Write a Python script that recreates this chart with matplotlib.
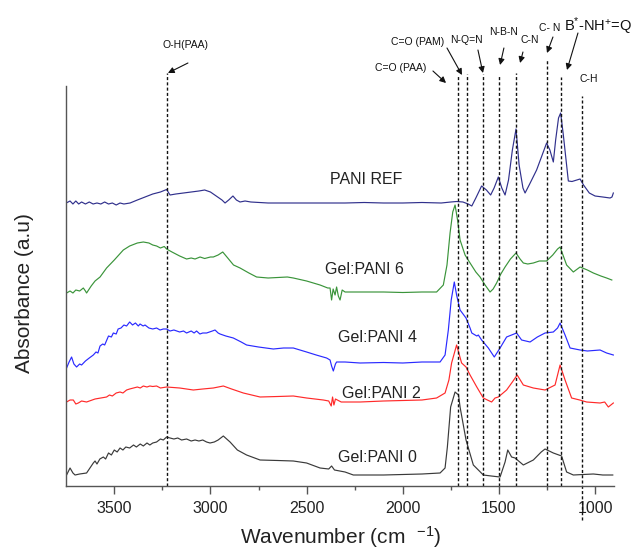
import matplotlib
matplotlib.use("Agg")
import matplotlib.pyplot as plt

plt.rcParams['font.family'] = ['Liberation Sans', 'DejaVu Sans']
plt.rcParams['mathtext.fontset'] = 'custom'
plt.rcParams['mathtext.rm'] = 'Liberation Sans'
plt.rcParams['mathtext.it'] = 'Liberation Sans'
plt.rcParams['mathtext.default'] = 'regular'

# ---------------- data (wavenumber cm-1, absorbance a.u., stacked offsets) -------------
ref_w = [3750, 3730, 3715, 3700, 3685, 3670, 3650, 3630, 3610, 3590, 3570, 3550, 3530, 3510,
         3490, 3470, 3450, 3418, 3380, 3340, 3300, 3260, 3228, 3210, 3180, 3140, 3100, 3060,
         3030, 3000, 2970, 2940, 2924, 2905, 2883, 2865, 2846, 2820, 2790, 2700, 2600, 2500,
         2400, 2300, 2200, 2100, 2000, 1900, 1800, 1750, 1720, 1687, 1660, 1641, 1620, 1590,
         1565, 1543, 1525, 1503, 1485, 1468, 1450, 1430, 1411, 1395, 1375, 1364, 1340, 1304,
         1275, 1252, 1235, 1217, 1205, 1190, 1179, 1165, 1139, 1120, 1078, 1060, 1030, 1000,
         960, 922, 912, 905]
ref_a = [2.83, 2.85, 2.82, 2.85, 2.82, 2.84, 2.82, 2.84, 2.82, 2.83, 2.82, 2.84, 2.82, 2.83,
         2.81, 2.83, 2.82, 2.83, 2.86, 2.89, 2.92, 2.94, 2.965, 2.91, 2.92, 2.93, 2.94, 2.95,
         2.96, 2.94, 2.90, 2.86, 2.83, 2.86, 2.90, 2.86, 2.84, 2.85, 2.84, 2.83, 2.83, 2.83,
         2.83, 2.83, 2.835, 2.83, 2.83, 2.835, 2.83, 2.84, 2.845, 2.84, 2.82, 2.80, 2.88, 3.00,
         2.96, 2.91, 2.98, 3.09, 2.98, 2.91, 3.06, 3.36, 3.57, 3.21, 2.98, 2.93, 3.02, 3.16,
         3.31, 3.43, 3.36, 3.24, 3.46, 3.68, 3.73, 3.51, 3.05, 3.045, 3.07, 3.01, 2.93, 2.90,
         2.89, 2.88, 2.89, 2.93]

p6_w = [3748, 3730, 3715, 3700, 3680, 3661, 3650, 3644, 3620, 3600, 3574, 3540, 3500, 3453,
        3420, 3380, 3349, 3320, 3300, 3280, 3260, 3240, 3228, 3200, 3160, 3124, 3100, 3080,
        3054, 3030, 3000, 2985, 2960, 2936, 2910, 2880, 2846, 2800, 2760, 2700, 2650, 2600,
        2569, 2500, 2430, 2390, 2378, 2370, 2362, 2352, 2344, 2335, 2326, 2315, 2300, 2257,
        2200, 2100, 2000, 1900, 1824, 1789, 1770, 1754, 1740, 1728, 1715, 1702, 1676, 1650,
        1620, 1598, 1572, 1546, 1530, 1512, 1490, 1468, 1440, 1411, 1390, 1373, 1350, 1321,
        1290, 1252, 1220, 1195, 1182, 1148, 1113, 1078, 1040, 1009, 970, 940, 913]
p6_a = [1.93, 1.95, 1.93, 1.96, 1.95, 1.98, 1.95, 1.93, 2.00, 2.05, 2.09, 2.18, 2.26, 2.36,
        2.40, 2.43, 2.44, 2.43, 2.41, 2.40, 2.38, 2.395, 2.37, 2.34, 2.30, 2.27, 2.28, 2.27,
        2.29, 2.275, 2.29, 2.29, 2.31, 2.34, 2.28, 2.21, 2.18, 2.13, 2.09, 2.08, 2.085, 2.09,
        2.08, 2.05, 2.01, 1.98, 1.98, 1.86, 1.97, 1.91, 1.99, 1.90, 1.86, 1.96, 1.94, 1.94,
        1.94, 1.94, 1.935, 1.94, 1.94, 2.01, 2.21, 2.53, 2.74, 2.81, 2.66, 2.46, 2.31, 2.23,
        2.14, 2.09, 2.01, 1.94, 1.97, 2.03, 2.12, 2.19, 2.27, 2.33, 2.27, 2.23, 2.22, 2.23,
        2.25, 2.25, 2.31, 2.37, 2.39, 2.21, 2.14, 2.19, 2.16, 2.13, 2.10, 2.08, 2.06]

p4_w = [3748, 3735, 3722, 3710, 3696, 3680, 3670, 3650, 3630, 3609, 3595, 3585, 3574, 3560,
        3550, 3530, 3515, 3505, 3490, 3480, 3465, 3450, 3436, 3420, 3405, 3390, 3375, 3366,
        3350, 3340, 3320, 3300, 3280, 3262, 3245, 3228, 3210, 3190, 3160, 3140, 3124, 3100,
        3085, 3072, 3055, 3040, 3020, 3005, 2990, 2976, 2960, 2950, 2935, 2920, 2881, 2840,
        2812, 2750, 2673, 2620, 2569, 2500, 2450, 2396, 2378, 2370, 2361, 2350, 2344, 2300,
        2222, 2100, 2000, 1900, 1806, 1780, 1763, 1748, 1732, 1720, 1702, 1671, 1650, 1641,
        1615, 1607, 1590, 1555, 1524, 1494, 1460, 1434, 1408, 1382, 1338, 1300, 1260, 1217,
        1195, 1182, 1156, 1130, 1078, 1040, 974, 940, 905]
p4_a = [1.18, 1.24, 1.29, 1.22, 1.19, 1.22, 1.21, 1.25, 1.28, 1.31, 1.34, 1.33, 1.40, 1.42,
        1.41, 1.50, 1.49, 1.53, 1.52, 1.57, 1.58, 1.61, 1.60, 1.64, 1.61, 1.63, 1.60, 1.62,
        1.60, 1.61, 1.58, 1.57, 1.58, 1.56, 1.57, 1.57, 1.55, 1.56, 1.54, 1.55, 1.53, 1.55,
        1.53, 1.55, 1.52, 1.53, 1.53, 1.54, 1.55, 1.56, 1.53, 1.52, 1.51, 1.50, 1.48, 1.44,
        1.41, 1.39, 1.37, 1.38, 1.38, 1.34, 1.31, 1.28, 1.26, 1.20, 1.15, 1.22, 1.24, 1.24,
        1.23, 1.235, 1.23, 1.24, 1.24, 1.31, 1.56, 1.86, 2.04, 1.91, 1.76, 1.68, 1.58, 1.53,
        1.50, 1.51, 1.46, 1.38, 1.29, 1.38, 1.49, 1.51, 1.53, 1.46, 1.44, 1.49, 1.53, 1.54,
        1.58, 1.63, 1.51, 1.38, 1.36, 1.35, 1.36, 1.33, 1.31]

p2_w = [3748, 3730, 3713, 3700, 3687, 3670, 3644, 3600, 3540, 3525, 3510, 3490, 3470, 3455,
        3436, 3420, 3400, 3380, 3365, 3349, 3330, 3315, 3300, 3280, 3260, 3228, 3160, 3089,
        3040, 2985, 2933, 2890, 2829, 2742, 2650, 2569, 2500, 2413, 2385, 2372, 2365, 2358,
        2350, 2320, 2222, 2100, 2000, 1900, 1824, 1780, 1760, 1746, 1720, 1694, 1671, 1650,
        1615, 1581, 1560, 1538, 1520, 1503, 1460, 1430, 1405, 1373, 1321, 1260, 1208, 1182,
        1156, 1122, 1080, 1044, 974, 950, 931, 905]
p2_a = [0.84, 0.86, 0.86, 0.82, 0.83, 0.85, 0.84, 0.87, 0.89, 0.91, 0.90, 0.93, 0.94, 0.93,
        0.96, 0.97, 0.98, 0.99, 0.98, 1.00, 0.99, 1.00, 0.995, 1.00, 0.98, 0.99, 0.98, 0.96,
        0.97, 0.98, 1.00, 0.97, 0.93, 0.89, 0.895, 0.90, 0.88, 0.86, 0.85, 0.80, 0.89, 0.81,
        0.87, 0.84, 0.84, 0.85, 0.855, 0.86, 0.88, 0.93, 1.06, 1.23, 1.41, 1.23, 1.19, 1.11,
        0.99, 0.88, 0.86, 0.84, 0.88, 0.89, 0.96, 1.04, 1.11, 1.01, 0.98, 0.96, 1.01, 1.21,
        1.06, 0.88, 0.86, 0.84, 0.83, 0.84, 0.79, 0.83]

p0_w = [3748, 3730, 3715, 3704, 3680, 3644, 3609, 3600, 3590, 3575, 3557, 3545, 3530, 3515,
        3500, 3485, 3470, 3455, 3440, 3420, 3400, 3385, 3365, 3349, 3330, 3315, 3300, 3280,
        3260, 3245, 3228, 3210, 3190, 3170, 3150, 3124, 3100, 3080, 3060, 3040, 3020, 3002,
        2980, 2960, 2933, 2898, 2860, 2812, 2742, 2650, 2569, 2500, 2430, 2385, 2370, 2355,
        2300, 2257, 2200, 2100, 2000, 1900, 1806, 1780, 1768, 1751, 1728, 1710, 1702, 1671,
        1633, 1581, 1540, 1494, 1468, 1454, 1434, 1416, 1373, 1321, 1280, 1260, 1217, 1174,
        1148, 1113, 1009, 960, 908]
p0_a = [0.11, 0.18, 0.13, 0.11, 0.12, 0.13, 0.23, 0.25, 0.22, 0.27, 0.29, 0.27, 0.33, 0.31,
        0.36, 0.34, 0.38, 0.36, 0.39, 0.38, 0.41, 0.39, 0.42, 0.40, 0.43, 0.41, 0.43, 0.44,
        0.47, 0.46, 0.49, 0.48, 0.47, 0.48, 0.46, 0.47, 0.45, 0.46, 0.45, 0.46, 0.44, 0.43,
        0.44, 0.46, 0.50, 0.44, 0.36, 0.31, 0.26, 0.255, 0.25, 0.23, 0.18, 0.17, 0.20, 0.16,
        0.14, 0.11, 0.11, 0.11, 0.115, 0.12, 0.13, 0.18, 0.39, 0.79, 0.94, 0.91, 0.79, 0.46,
        0.21, 0.11, 0.10, 0.09, 0.24, 0.36, 0.29, 0.28, 0.21, 0.26, 0.34, 0.37, 0.33, 0.30,
        0.14, 0.11, 0.12, 0.11, 0.11]

series_names = ["PANI REF", "Gel:PANI 6", "Gel:PANI 4", "Gel:PANI 2", "Gel:PANI 0"]
series_colors = ["#30308c", "#3a943a", "#2a2aff", "#ff2a2a", "#3a3a3a"]

# curve label anchors (wavenumber, absorbance)
label_w = [2378, 2404, 2337, 2318, 2337]
label_a = [3.06, 2.16, 1.48, 0.93, 0.28]

# band assignments: dashed line wavenumbers
band_w = [3225, 1714, 1665, 1582, 1501, 1410, 1250, 1178, 1070]
band_top = [4.13, 4.10, 4.12, 4.12, 4.10, 4.13, 4.26, 4.09, 3.90]
band_bot = [0.0, 0.0, 0.0, 0.0, 0.0, 0.0, 0.0, 0.0, -0.34]

band_labels = ["O-H(PAA)", "C=O (PAA)", "C=O (PAM)", "N-Q=N", "N-B-N", "C-N", "C- N",
               r"B$^{*}$-NH$^{+}$=Q", "C-H"]
band_text_w = [3132, 2009, 1921, 1671, 1474, 1341, 1237, 985, 1034]
band_text_a = [4.41, 4.18, 4.44, 4.46, 4.54, 4.46, 4.58, 4.60, 4.07]
band_text_size = [7.5, 7.5, 7.5, 7.5, 7.5, 7.5, 7.5, 10.5, 7.5]
arrow_tail_w = [3117, 1843, 1770, 1609, 1474, 1375, 1219, 1089, None]
arrow_tail_a = [4.23, 4.15, 4.38, 4.36, 4.38, 4.34, 4.49, 4.53, None]
arrow_head_w = [3221, 1775, 1692, 1583, 1494, 1390, 1250, 1146, None]
arrow_head_a = [4.13, 4.03, 4.11, 4.13, 4.21, 4.23, 4.33, 4.16, None]

xticks = [3500, 3000, 2500, 2000, 1500, 1000]
minor_xticks = [3250, 2750, 2250, 1750, 1250]

# ---------------- figure -------------
fig = plt.figure(figsize=(6.33, 5.54), dpi=100)
ax = fig.add_axes([66.2 / 633, 68 / 554, (614.3 - 66.2) / 633, 400 / 554])

series_w = [ref_w, p6_w, p4_w, p2_w, p0_w]
series_a = [ref_a, p6_a, p4_a, p2_a, p0_a]
for w, a, c in zip(series_w, series_a, series_colors):
    ax.plot(w, a, color=c, lw=0.85)

for name, lw_, la in zip(series_names, label_w, label_a):
    ax.text(lw_, la, name, fontsize=11.5, ha='left', va='center', color='#222222')

for bw, bt, bb in zip(band_w, band_top, band_bot):
    ax.plot([bw, bw], [bb, bt], color='#111111', lw=1.0, ls=(0, (2.2, 1.6)),
            clip_on=False)

for i, txt in enumerate(band_labels):
    ax.text(band_text_w[i], band_text_a[i], txt, fontsize=band_text_size[i],
            ha='center', va='center', color='#111111', clip_on=False)
    if arrow_tail_w[i] is not None:
        ax.annotate('', xy=(arrow_head_w[i], arrow_head_a[i]),
                    xytext=(arrow_tail_w[i], arrow_tail_a[i]),
                    arrowprops=dict(arrowstyle='-|>', color='#111111', lw=0.8,
                                    mutation_scale=9, shrinkA=0, shrinkB=0),
                    annotation_clip=False)

ax.set_xlim(3750, 900)
ax.set_ylim(0, 4.0)
ax.set_xticks(xticks)
ax.set_xticks(minor_xticks, minor=True)
ax.set_yticks([])
for s in ['top', 'right']:
    ax.spines[s].set_visible(False)
for s in ['left', 'bottom']:
    ax.spines[s].set_color('#555555')
    ax.spines[s].set_linewidth(1.0)
ax.tick_params(axis='x', which='major', direction='out', length=5.5, width=1,
               color='#555555', labelsize=11.5, pad=5, labelcolor='#222222')
ax.tick_params(axis='x', which='minor', direction='out', length=2.8, width=1,
               color='#555555')

ax.set_xlabel(r"Wavenumber (cm  $^{-1}$)", fontsize=15, color='#222222')
ax.xaxis.set_label_coords(0.5, -0.095)
ax.xaxis.label.set_va('top')
ax.set_ylabel("Absorbance (a.u)", fontsize=15, color='#222222')
ax.yaxis.set_label_coords(-0.058, 0.4825)

fig.savefig("out.png", dpi=100)
